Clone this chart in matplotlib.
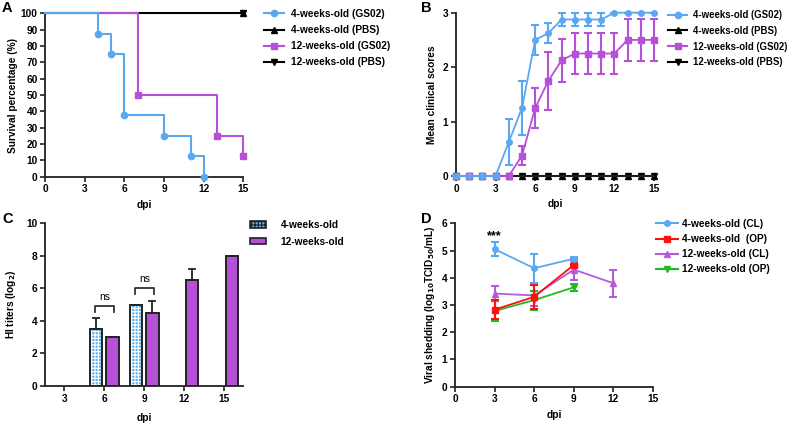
import numpy as np
import matplotlib
matplotlib.use('Agg')
import matplotlib.pyplot as plt
import matplotlib.patches as mpatches

plt.rcParams['font.family'] = ['Liberation Sans', 'DejaVu Sans']
plt.rcParams['font.weight'] = 'bold'
plt.rcParams['axes.labelweight'] = 'bold'
plt.rcParams['hatch.linewidth'] = 0.8

BLUE = '#5aa8f2'
PURPLE = '#b650d8'
RED = '#ff1010'
GREEN = '#25b825'
CHECK = '#5cb3ee'

# ---- panel A: survival
surv_days_4w = [0, 4, 5, 6, 9, 11, 12]
surv_4w = [100, 87.5, 75, 37.5, 25, 12.5, 0]
surv_days_12w = [0, 7, 13, 15]
surv_12w = [100, 50, 25, 12.5]
surv_days_pbs = [0, 15]
surv_pbs = [100, 100]

# ---- panel B: clinical scores
score_days = list(range(16))
score_4w = [0, 0, 0, 0, 0.625, 1.25, 2.5, 2.625, 2.875, 2.875, 2.875, 2.875, 3, 3, 3, 3]
score_4w_err = [0, 0, 0, 0, 0.42, 0.49, 0.27, 0.18, 0.125, 0.125, 0.125, 0.125, 0, 0, 0, 0]
score_12w = [0, 0, 0, 0, 0, 0.375, 1.25, 1.75, 2.125, 2.25, 2.25, 2.25, 2.25, 2.5, 2.5, 2.5]
score_12w_err = [0, 0, 0, 0, 0, 0.18, 0.37, 0.53, 0.4, 0.37, 0.37, 0.37, 0.37, 0.38, 0.38, 0.38]
score_pbs = [0] * 16

# ---- panel C: HI titers
hi_days = ['3', '6', '9', '12', '15']
hi_4w = [np.nan, 3.5, 5.0, np.nan, np.nan]
hi_4w_err = [0, 0.7, 0, 0, 0]
hi_12w = [np.nan, 3.0, 4.5, 6.5, 8.0]
hi_12w_err = [0, 0, 0.72, 0.72, 0]

# ---- panel D: viral shedding
shed_days = [3, 6, 9]
shed_days_12 = [3, 6, 9, 12]
cl_4w = [5.05, 4.35, 4.7]
cl_4w_err = [0.25, 0.53, 0.07]
op_4w = [2.83, 3.3, 4.47]
op_4w_err = [0.35, 0.45, 0.05]
cl_12w = [3.42, 3.35, 4.3, 3.8]
cl_12w_err = [0.27, 0.4, 0.4, 0.5]
op_12w = [2.78, 3.18, 3.65]
op_12w_err = [0.38, 0.35, 0.13]

fig = plt.figure(figsize=(7.91, 4.23), dpi=100)
W, H = 791, 423


def make_ax(x0, x1, ytop, ybot):
    ax = fig.add_axes([x0 / W, (H - ybot) / H, (x1 - x0) / W, (ybot - ytop) / H])
    for s in ['top', 'right']:
        ax.spines[s].set_visible(False)
    for s in ['left', 'bottom']:
        ax.spines[s].set_linewidth(1.3)
        ax.spines[s].set_color('#222222')
    ax.tick_params(labelsize=7.3, width=1.2, length=3.5, color='#222222', pad=2)
    return ax


FS = 7.3

# A
axA = make_ax(45.3, 243.3, 13.3, 176.7)
axA.step(surv_days_pbs, surv_pbs, where='post', color='black', lw=1.5, marker='^', ms=4,
         markevery=[1], clip_on=False, zorder=2)
axA.plot([15], [100], color='black', marker='v', ms=4, clip_on=False, zorder=2)
axA.step(surv_days_12w, surv_12w, where='post', color=PURPLE, lw=1.5, marker='s', ms=4.5,
         markevery=slice(1, None), clip_on=False, zorder=3)
axA.step(surv_days_4w, surv_4w, where='post', color=BLUE, lw=1.5, marker='o', ms=4.5,
         markevery=slice(1, None), clip_on=False, zorder=4)
axA.set_xlim(0, 15)
axA.set_ylim(0, 100)
axA.set_xticks([0, 3, 6, 9, 12, 15])
axA.set_yticks(range(0, 101, 10))
axA.set_xlabel('dpi', fontsize=FS, labelpad=4)
axA.set_ylabel('Survival percentage (%)', fontsize=FS, labelpad=2)
hA = [plt.Line2D([], [], color=BLUE, marker='o', ms=4.5, lw=1.5),
      plt.Line2D([], [], color='black', marker='^', ms=4, lw=1.5),
      plt.Line2D([], [], color=PURPLE, marker='s', ms=4.5, lw=1.5),
      plt.Line2D([], [], color='black', marker='v', ms=4, lw=1.5)]
lA = ['4-weeks-old (GS02)', '4-weeks-old (PBS)', '12-weeks-old (GS02)', '12-weeks-old (PBS)']
fig.legend(hA, lA, loc='upper left', bbox_to_anchor=(264 / W, 1 - 9 / H), frameon=False,
           fontsize=FS, handlelength=2.0, handletextpad=0.7, labelspacing=0.6,
           borderaxespad=0, borderpad=0)

# B
axB = make_ax(456, 654, 12.7, 176)
axB.plot(score_days, score_pbs, color='black', lw=1.5, marker='^', ms=4, clip_on=False, zorder=2)
axB.plot(score_days, score_pbs, color='black', lw=0, marker='v', ms=4, clip_on=False, zorder=2)
axB.errorbar(score_days, score_12w, yerr=score_12w_err, color=PURPLE, lw=1.3, marker='s', ms=4,
             capsize=3, elinewidth=1.5, capthick=1.5, clip_on=False, zorder=3)
axB.errorbar(score_days, score_4w, yerr=score_4w_err, color=BLUE, lw=1.3, marker='o', ms=4,
             capsize=3, elinewidth=1.5, capthick=1.5, clip_on=False, zorder=4)
axB.set_xlim(0, 15)
axB.set_ylim(0, 3)
axB.set_xticks([0, 3, 6, 9, 12, 15])
axB.set_yticks([0, 1, 2, 3])
axB.set_xlabel('dpi', fontsize=FS, labelpad=4)
axB.set_ylabel('Mean clinical scores', fontsize=FS, labelpad=4)
fig.legend(hA, lA, loc='upper left', bbox_to_anchor=(668 / W, 1 - 10 / H), frameon=False,
           fontsize=6.9, handlelength=2.0, handletextpad=0.6, labelspacing=0.6,
           borderaxespad=0, borderpad=0)

# C
axC = make_ax(45, 243, 223.3, 386)
x = np.arange(len(hi_days))
bw = 0.31
v4 = np.array(hi_4w)
v12 = np.array(hi_12w)
m4 = ~np.isnan(v4)
m12 = ~np.isnan(v12)
axC.bar(x[m4] - 0.2, v4[m4], bw, color=CHECK, edgecolor='white', hatch='+++++', lw=0, zorder=2)
axC.bar(x[m4] - 0.2, v4[m4], bw, color='none', edgecolor='#222222', lw=1.4, zorder=3)
axC.errorbar(x[m4] - 0.2, v4[m4], yerr=[np.zeros(m4.sum()), np.array(hi_4w_err)[m4]],
             fmt='none', ecolor='#222222', elinewidth=1.3, capsize=3, capthick=1.3, zorder=1)
axC.bar(x[m12] + 0.21, v12[m12], bw, color=PURPLE, edgecolor='#222222', lw=1.4, zorder=3)
axC.errorbar(x[m12] + 0.21, v12[m12], yerr=[np.zeros(m12.sum()), np.array(hi_12w_err)[m12]],
             fmt='none', ecolor='#222222', elinewidth=1.3, capsize=3, capthick=1.3, zorder=1)
for xi, ytop, ytext in [(1, 4.9, 5.45), (2, 6.02, 6.6)]:
    axC.plot([xi - 0.23, xi - 0.23, xi + 0.25, xi + 0.25], [ytop - 0.35, ytop, ytop, ytop - 0.35],
             color='#333333', lw=1.3)
    axC.text(xi + 0.01, ytext, 'ns', ha='center', va='center', fontsize=7.5, fontweight='normal')
axC.set_xlim(-0.49, 4.49)
axC.set_ylim(0, 10)
axC.set_xticks(x)
axC.set_xticklabels(hi_days)
axC.set_yticks([0, 2, 4, 6, 8, 10])
axC.set_xlabel('dpi', fontsize=FS, labelpad=7)
axC.set_ylabel('HI titers (log$_\\mathbf{2}$)', fontsize=FS, labelpad=6)
hC = [mpatches.Patch(facecolor=CHECK, edgecolor='#222222', hatch='+++++', lw=1.2),
      mpatches.Patch(facecolor=PURPLE, edgecolor='#222222', lw=1.2)]
fig.legend(hC, ['4-weeks-old', '12-weeks-old'], loc='upper left',
           bbox_to_anchor=(250 / W, 1 - 220 / H), frameon=False, fontsize=FS,
           handlelength=1.6, handleheight=0.6, handletextpad=1.4, labelspacing=0.65,
           borderaxespad=0, borderpad=0)

# D
axD = make_ax(455, 653, 223.3, 386.7)
ekw = dict(lw=1.3, ms=4, capsize=3, elinewidth=1.5, capthick=1.5, clip_on=False)
axD.errorbar(shed_days, op_12w, yerr=op_12w_err, color=GREEN, marker='v', zorder=2, **ekw)
axD.errorbar(shed_days_12, cl_12w, yerr=cl_12w_err, color='#b35cd9', marker='^', zorder=3, **ekw)
axD.errorbar(shed_days, op_4w, yerr=op_4w_err, color=RED, marker='s', zorder=4, **ekw)
axD.errorbar(shed_days, cl_4w, yerr=cl_4w_err, color=BLUE, marker='o', zorder=5, **ekw)
axD.text(3, 5.52, '***', ha='center', va='center', fontsize=9)
axD.set_xlim(0, 15)
axD.set_ylim(0, 6)
axD.set_xticks([0, 3, 6, 9, 12, 15])
axD.set_yticks(range(7))
axD.set_xlabel('dpi', fontsize=FS, labelpad=4)
axD.set_ylabel('Viral shedding (log$_\\mathbf{10}$TCID$_\\mathbf{50}$/mL)', fontsize=FS, labelpad=3)
hD = [plt.Line2D([], [], color=BLUE, marker='o', ms=4, lw=1.5),
      plt.Line2D([], [], color=RED, marker='s', ms=4, lw=1.5),
      plt.Line2D([], [], color='#b35cd9', marker='^', ms=4, lw=1.5),
      plt.Line2D([], [], color=GREEN, marker='v', ms=4, lw=1.5)]
lD = ['4-weeks-old (CL)', '4-weeks-old  (OP)', '12-weeks-old (CL)', '12-weeks-old (OP)']
fig.legend(hD, lD, loc='upper left', bbox_to_anchor=(656 / W, 1 - 219 / H), frameon=False,
           fontsize=FS, handlelength=2.2, handletextpad=0.4, labelspacing=0.5,
           borderaxespad=0, borderpad=0)

# panel letters
for lab, px, py in [('A', 2, 1), ('B', 421, 1), ('C', 2, 212), ('D', 421, 212)]:
    fig.text(px / W, 1 - py / H, lab, fontsize=10.5, fontweight='bold', va='top', ha='left')

fig.savefig('out.png', dpi=100)
